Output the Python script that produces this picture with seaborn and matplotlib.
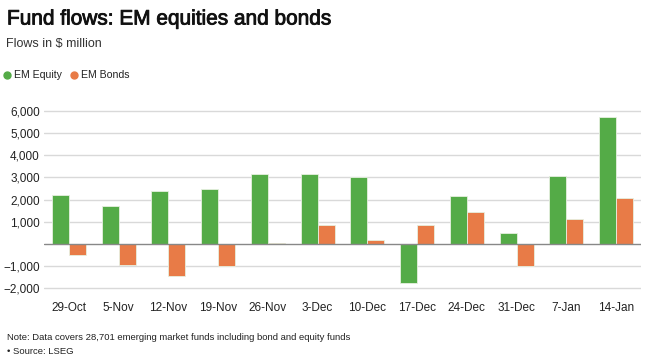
import matplotlib
matplotlib.use("Agg")
import matplotlib.pyplot as plt
import matplotlib.patheffects as pe
from matplotlib.lines import Line2D
import seaborn as sns
import pandas as pd

weeks = ["29-Oct", "5-Nov", "12-Nov", "19-Nov", "26-Nov", "3-Dec",
         "10-Dec", "17-Dec", "24-Dec", "31-Dec", "7-Jan", "14-Jan"]
em_equity = [2225, 1710, 2390, 2480, 3170, 3140, 3005, -1740, 2160, 510, 3080, 5720]
em_bonds = [-495, -945, -1440, -1005, 60, 870, 165, 840, 1430, -990, 1145, 2070]
series_names = ["EM Equity", "EM Bonds"]
colors = ["#54ab47", "#e87b47"]

df = pd.DataFrame({
    "week": weeks * 2,
    "flow": em_equity + em_bonds,
    "series": [series_names[0]] * len(weeks) + [series_names[1]] * len(weeks),
})

sns.set_style("white")
plt.rcParams["font.family"] = ["Liberation Sans", "DejaVu Sans"]

fig = plt.figure(figsize=(6.47, 3.58), dpi=100)
ax = fig.add_axes([44 / 647, 1 - 292.7 / 358, 597 / 647, 191.7 / 358])

sns.barplot(data=df, x="week", y="flow", hue="series", order=weeks,
            hue_order=series_names, palette=colors, width=0.68,
            saturation=1, edgecolor="#e6f0e0", linewidth=0.6, ax=ax, legend=False)

ax.set_xlim(-0.5, 11.5)
ax.set_ylim(-2200, 6450)
ax.set_yticks([-2000, -1000, 1000, 2000, 3000, 4000, 5000, 6000])
ax.set_yticklabels(["\u22122,000", "\u22121,000", "1,000", "2,000", "3,000",
                    "4,000", "5,000", "6,000"])
ax.grid(axis="y", color="#d9d9d9", linewidth=1)
ax.set_axisbelow(True)
ax.axhline(0, color="#888888", linewidth=1, zorder=3)
for s in ax.spines.values():
    s.set_visible(False)
ax.tick_params(axis="both", length=0, labelsize=8.5, colors="#222222")
ax.tick_params(axis="y", pad=3)
ax.tick_params(axis="x", pad=7)
ax.set_xlabel("")
ax.set_ylabel("")

# title: regular face thickened a bit to look like a medium weight
fig.text(7 / 647, 1 - 19 / 358, "Fund flows: EM equities and bonds",
         fontsize=15, fontweight="normal", va="center", ha="left", color="#111111",
         path_effects=[pe.withStroke(linewidth=0.6, foreground="#111111")])
fig.text(6 / 647, 1 - 44 / 358, "Flows in $ million",
         fontsize=9, va="center", ha="left", color="#333333")

handles = [Line2D([], [], marker="o", linestyle="", markersize=5,
                  markerfacecolor=c, markeredgecolor=c) for c in colors]
fig.legend(handles, series_names, loc="center left",
           bbox_to_anchor=(3 / 647, 1 - 75.5 / 358), frameon=False, ncol=2,
           fontsize=7.6, handletextpad=0.3, columnspacing=0.75, handlelength=0.75,
           borderpad=0, borderaxespad=0, labelcolor="#222222")

fig.text(7 / 647, 1 - 337 / 358,
         "Note: Data covers 28,701 emerging market funds including bond and equity funds",
         fontsize=6.8, va="center", ha="left", color="#222222")
fig.text(7 / 647, 1 - 352 / 358, "\u2022 Source: LSEG",
         fontsize=6.8, va="center", ha="left", color="#222222")

fig.savefig("out.png", dpi=100)
